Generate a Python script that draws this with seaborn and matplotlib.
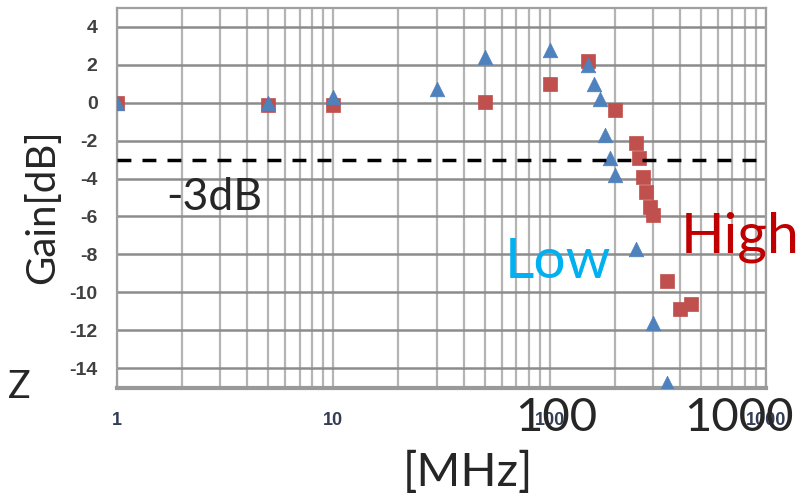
import pandas as pd
import matplotlib.pyplot as plt
import seaborn as sns
from matplotlib.ticker import FixedLocator, NullFormatter

# === Data ===
low_freq = [1, 5, 10, 30, 50, 100, 150, 160, 170, 180, 190, 200, 250, 300, 350]
low_gain = [0.0, 0.0, 0.3, 0.7, 2.4, 2.8, 2.0, 1.0, 0.2, -1.7, -2.9, -3.8, -7.7, -11.6, -14.8]

high_freq = [1, 5, 10, 50, 100, 150, 200, 250, 260, 270, 280, 290, 300, 350, 400, 450]
high_gain = [0.0, -0.1, -0.1, 0.05, 1.0, 2.2, -0.4, -2.1, -2.9, -3.9, -4.7, -5.5, -5.9, -9.4, -10.9, -10.6]

y_ticks = [4, 2, 0, -2, -4, -6, -8, -10, -12, -14]
x_ticks = [1, 10, 100, 1000]
cutoff_db = -3

low = pd.DataFrame({"freq": low_freq, "gain": low_gain})
high = pd.DataFrame({"freq": high_freq, "gain": high_gain})

sns.set_style("white")
plt.rcParams["font.family"] = ["Lato", "DejaVu Sans"]

W, H = 809, 500
fig = plt.figure(figsize=(W / 100, H / 100), dpi=100)
ax = fig.add_axes([117 / W, 1 - 388 / H, (766 - 117) / W, (388 - 8) / H])

# === Scatter: squares first, triangles on top ===
sns.scatterplot(x="freq", y="gain", data=high, ax=ax, marker="s", s=110,
                color="#C0504D", edgecolor="#C0504D", linewidth=0.5, zorder=3)
sns.scatterplot(x="freq", y="gain", data=low, ax=ax, marker="^", s=110,
                color="#4F81BD", edgecolor="#4F81BD", linewidth=0.5, zorder=4)

ax.set_xscale("log")
ax.set_xlim(1, 1000)
ax.set_ylim(-15.05, 5)

# === Ticks and grid ===
tick_font = ["Liberation Sans", "DejaVu Sans"]
ax.xaxis.set_major_locator(FixedLocator(x_ticks))
minor = [m * d for d in [1, 10, 100] for m in range(2, 10)]
ax.xaxis.set_minor_locator(FixedLocator(minor))
ax.xaxis.set_minor_formatter(NullFormatter())
ax.set_xticklabels([str(t) for t in x_ticks], fontsize=13, color="#333d55",
                   fontweight="bold", family=tick_font)
ax.set_yticks(y_ticks)
ax.set_yticklabels([str(t) for t in y_ticks], fontsize=14, color="#404040",
                   fontweight="bold", family=tick_font)
ax.tick_params(axis="x", which="both", length=0, pad=17)
ax.tick_params(axis="y", length=6, width=1.5, color="#8c8c8c", pad=14, direction="in")

ax.grid(True, axis="x", which="both", color="#b4b4b4", linewidth=1.6, zorder=0)
ax.grid(True, axis="y", which="major", color="#8c8c8c", linewidth=1.8, zorder=0)
ax.set_axisbelow(True)

for side, sp in ax.spines.items():
    sp.set_color("#a0a0a0")
    sp.set_linewidth(1.6)
ax.spines["bottom"].set_linewidth(3)
ax.spines["bottom"].set_color("#999999")

# -3 dB reference
ax.axhline(cutoff_db, color="black", linestyle=(0, (4, 3.2)), linewidth=2.5, zorder=5)

ax.set_xlabel("")
ax.set_ylabel("")

# === Overlay labels ===
def px(x, y):
    return x / W, 1 - y / H

fig.text(*px(43, 207), "Gain[dB]", rotation=90, fontsize=29, ha="center", va="center")
fig.text(*px(214, 198), "-3dB", fontsize=32, ha="center", va="center")
fig.text(*px(558, 262), "Low", fontsize=41, color="#00B0F0", ha="center", va="center")
fig.text(*px(740, 237), "High", fontsize=41, color="#C00000", ha="center", va="center")
fig.text(*px(19, 387), "Z", fontsize=27, ha="center", va="center")
fig.text(*px(556, 418), "100", fontsize=34, ha="center", va="center")
fig.text(*px(739, 418), "1000", fontsize=34, ha="center", va="center")
fig.text(*px(468, 472), "[MHz]", fontsize=34, ha="center", va="center")

fig.savefig("out.png", dpi=100, facecolor="white")
